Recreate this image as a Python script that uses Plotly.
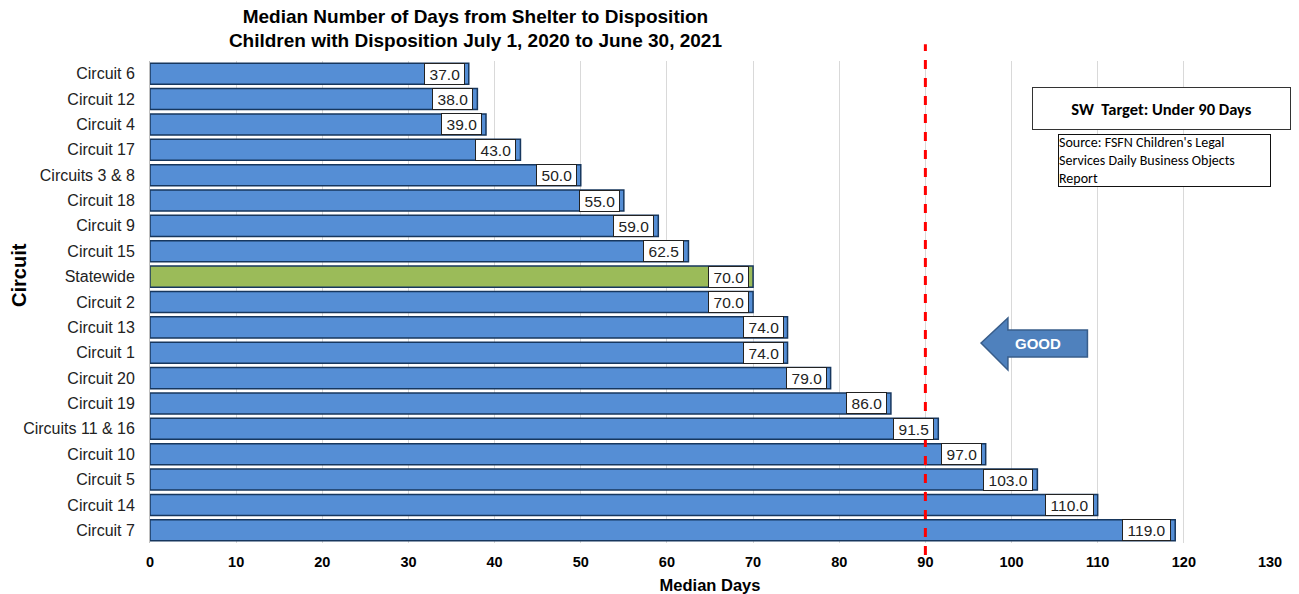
import plotly.graph_objects as go

circuits = ["Circuit 6", "Circuit 12", "Circuit 4", "Circuit 17", "Circuits 3 & 8", "Circuit 18",
            "Circuit 9", "Circuit 15", "Statewide", "Circuit 2", "Circuit 13", "Circuit 1",
            "Circuit 20", "Circuit 19", "Circuits 11 & 16", "Circuit 10", "Circuit 5",
            "Circuit 14", "Circuit 7"]
median_days = [37.0, 38.0, 39.0, 43.0, 50.0, 55.0, 59.0, 62.5, 70.0, 70.0, 74.0, 74.0,
               79.0, 86.0, 91.5, 97.0, 103.0, 110.0, 119.0]
target = 90
x_ticks = list(range(0, 131, 10))

BLUE = "#558ED5"
GREEN = "#9BBB59"
colors = [GREEN if c == "Statewide" else BLUE for c in circuits]

fig = go.Figure()
fig.add_trace(go.Bar(
    x=median_days, y=circuits, orientation="h",
    marker=dict(color=colors, line=dict(color="#17375E", width=1.5)),
    hoverinfo="x+y", showlegend=False,
))

for c, v in zip(circuits, median_days):
    fig.add_annotation(x=v, y=c, text=f"\u2009{v:.1f}\u2009", xanchor="right", yanchor="middle",
                       showarrow=False, xshift=-4,
                       font=dict(family="Liberation Sans, Arial", size=15.5, color="#222222"),
                       bgcolor="white", bordercolor="#222222", borderwidth=1, borderpad=1.5)

# target line
fig.add_shape(type="line", x0=target, x1=target, xref="x", yref="paper", y0=-0.025, y1=1.035,
              line=dict(color="#FF0000", width=3, dash="dash"))

# GOOD arrow
fig.add_shape(type="path", xref="paper", yref="paper",
              path="M 0.742 0.415 L 0.766 0.467 L 0.766 0.442 L 0.837 0.442 L 0.837 0.386 L 0.766 0.386 L 0.766 0.359 Z",
              fillcolor="#4F81BD", line=dict(color="#385D8A", width=1.5))
fig.add_annotation(xref="paper", yref="paper", x=0.7705, y=0.414, xanchor="left", text="<b>GOOD</b>",
                   showarrow=False,
                   font=dict(family="Liberation Sans, Arial", size=15, color="white"))

# SW target box
fig.add_annotation(xref="paper", yref="paper", x=0.903, y=0.901, xanchor="center", yanchor="middle",
                   text="<b>SW  Target: Under 90 Days</b>", showarrow=False,
                   font=dict(family="Carlito, Calibri, Liberation Sans", size=16.5, color="black"),
                   bgcolor="white", bordercolor="#333333", borderwidth=1,
                   width=255, height=39)
fig.add_annotation(xref="paper", yref="paper", x=0.906, y=0.794, xanchor="center", yanchor="middle",
                   text="Source: FSFN Children's Legal<br>Services Daily Business Objects<br>Report",
                   align="left", showarrow=False,
                   font=dict(family="Carlito, Calibri, Liberation Sans", size=14, color="black"),
                   bgcolor="white", bordercolor="#111111", borderwidth=1, borderpad=0,
                   width=211, height=51)

# y-axis title (placed as annotation to match reference position)
fig.add_annotation(xref="paper", yref="paper", x=-0.117, y=0.556, text="<b>Circuit</b>",
                   textangle=-90, showarrow=False, xanchor="center", yanchor="middle",
                   font=dict(family="Liberation Sans, Arial", size=20, color="black"))

fig.update_layout(
    width=1299, height=594,
    margin=dict(l=150, r=29, t=61, b=51),
    plot_bgcolor="white", paper_bgcolor="white",
    bargap=0.17,
    title=dict(text="<b>Median Number of Days from Shelter to Disposition<br>Children with Disposition July 1, 2020 to June 30, 2021</b>",
               x=0.366, xanchor="center", y=0.962, yanchor="top",
               font=dict(family="Liberation Sans Narrow, Arial Narrow, Liberation Sans", size=19, color="black")),
    xaxis=dict(range=[0, 130], tickvals=x_ticks, showgrid=True, gridcolor="#D9D9D9",
               zeroline=False, showline=False, ticks="", automargin=False,
               ticklabelstandoff=8,
               tickfont=dict(family="Liberation Sans, Arial", size=14.5, color="black", weight="bold"),
               title=dict(text="<b>Median Days</b>", standoff=11,
                          font=dict(family="Liberation Sans, Arial", size=16.5, color="black"))),
    yaxis=dict(autorange="reversed", showline=True, linecolor="#BFBFBF", ticks="",
               automargin=False, ticklabelstandoff=2,
               tickfont=dict(family="Liberation Sans, Arial", size=16, color="#222222"),
               ticksuffix="  "),
)

fig.write_html("out.html", config={"displayModeBar": False},
               post_script="document.body.style.margin='0';")
